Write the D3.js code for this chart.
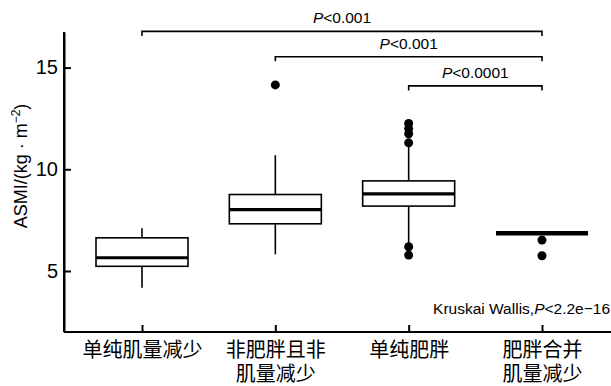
<!DOCTYPE html>
<html>
<head>
<meta charset="utf-8">
<script src="https://cdn.jsdelivr.net/npm/d3@7"></script>
<style>
  body { margin: 0; background: #fff; }
  text { font-family: "Liberation Sans", Arial, "Noto Sans CJK SC", sans-serif; fill: #000; }
  .cjk { font-family: "Noto Sans CJK SC", sans-serif; }
</style>
</head>
<body>
<div id="chart"></div>
<script>
const width = 611;
const height = 386;

// groups (x labels, split into lines)
const groups = ['g1', 'g2', 'g3', 'g4'];
const groupLabels = [['单纯肌量减少'], ['非肥胖且非', '肌量减少'], ['单纯肥胖'], ['肥胖合并', '肌量减少']];

// box stats
const whiskerLow  = [4.18, 5.82, 6.30, 6.85];
const q1          = [5.23, 7.32, 8.19, 6.85];
const medians     = [5.65, 8.02, 8.79, 6.85];
const q3          = [6.63, 8.76, 9.43, 6.85];
const whiskerHigh = [7.10, 10.69, 11.20, 6.85];
const outliers    = [[], [14.15], [12.25, 12.0, 11.75, 11.3, 6.19, 5.78], [6.52, 5.75]];

const yTicks = [5, 10, 15];

// pairwise comparisons
const bracketFrom  = ['g1', 'g2', 'g3'];
const bracketTo    = ['g4', 'g4', 'g4'];
const bracketLevel = [16.78, 15.53, 14.1];
const bracketLabel = ['<0.001', '<0.001', '<0.0001'];

const kruskalText = 'Kruskai Wallis,';
const kruskalP = '<2.2e\u221216';

const svg = d3.select('#chart')
  .append('svg')
  .attr('width', width)
  .attr('height', height);

const axisX = 64;
const axisY = 332;

const x = d3.scalePoint()
  .domain(groups)
  .range([142, 542]);

const y = d3.scaleLinear()
  .domain([2, 16.75])
  .range([axisY, 32]);

const boxW = 92;

// axes
const yAxis = svg.append('g')
  .attr('transform', 'translate(' + axisX + ',0)')
  .call(d3.axisLeft(y).tickValues(yTicks).tickSizeInner(-7).tickSizeOuter(0).tickPadding(6));
yAxis.select('.domain').attr('stroke-width', 2);
yAxis.selectAll('.tick line').attr('stroke-width', 2);
yAxis.selectAll('.tick text').style('font-size', '20px');

svg.append('line')
  .attr('x1', axisX).attr('x2', width)
  .attr('y1', axisY).attr('y2', axisY)
  .attr('stroke', '#000').attr('stroke-width', 2);
// extend y axis line down to x axis
svg.append('line')
  .attr('x1', axisX).attr('x2', axisX)
  .attr('y1', y(2)).attr('y2', y.range()[1])
  .attr('stroke', '#000').attr('stroke-width', 2);

const xAxis = svg.append('g')
  .attr('transform', 'translate(0,' + axisY + ')')
  .call(d3.axisBottom(x).tickSizeInner(-7).tickSizeOuter(0).tickFormat(''));
xAxis.select('.domain').remove();
xAxis.selectAll('.tick line').attr('stroke-width', 2);

xAxis.selectAll('.tick').each(function(d, i) {
  const tk = d3.select(this);
  groupLabels[i].forEach((line, j) => {
    tk.append('text')
      .attr('class', 'cjk')
      .attr('text-anchor', 'middle')
      .style('font-size', '20px')
      .attr('y', 25 + j * 24)
      .text(line);
  });
});

// y label
const yl = svg.append('text')
  .attr('transform', 'translate(27,166) rotate(-90)')
  .attr('text-anchor', 'middle')
  .style('font-size', '18px');
yl.append('tspan').text('ASMI/(kg \u00b7 m');
yl.append('tspan').attr('dy', -7).style('font-size', '12px').text('\u22122');
yl.append('tspan').attr('dy', 7).text(')');

// boxes
const box = svg.selectAll('.box')
  .data(groups)
  .enter()
  .append('g')
  .attr('class', 'box');

box.append('line')
  .attr('x1', d => x(d)).attr('x2', d => x(d))
  .attr('y1', (d, i) => y(whiskerLow[i])).attr('y2', (d, i) => y(q1[i]))
  .attr('stroke', '#000').attr('stroke-width', 1.6);

box.append('line')
  .attr('x1', d => x(d)).attr('x2', d => x(d))
  .attr('y1', (d, i) => y(q3[i])).attr('y2', (d, i) => y(whiskerHigh[i]))
  .attr('stroke', '#000').attr('stroke-width', 1.6);

box.append('rect')
  .attr('x', d => x(d) - boxW / 2)
  .attr('width', boxW)
  .attr('y', (d, i) => y(q3[i]))
  .attr('height', (d, i) => y(q1[i]) - y(q3[i]))
  .attr('fill', '#fff')
  .attr('stroke', '#000').attr('stroke-width', 1.6);

box.append('line')
  .attr('x1', d => x(d) - boxW / 2).attr('x2', d => x(d) + boxW / 2)
  .attr('y1', (d, i) => y(medians[i])).attr('y2', (d, i) => y(medians[i]))
  .attr('stroke', '#000').attr('stroke-width', (d, i) => q1[i] === q3[i] ? 4.5 : 3.2);

box.each(function(d, i) {
  d3.select(this).selectAll('circle')
    .data(outliers[i])
    .enter()
    .append('circle')
    .attr('cx', x(d))
    .attr('cy', v => y(v))
    .attr('r', 4.5)
    .attr('fill', '#000');
});

// brackets
const tick = 4.5;
bracketFrom.forEach((from, i) => {
  const x1 = x(from), x2 = x(bracketTo[i]), yy = y(bracketLevel[i]);
  svg.append('path')
    .attr('d', 'M' + x1 + ',' + (yy + tick) + 'V' + yy + 'H' + x2 + 'V' + (yy + tick))
    .attr('fill', 'none')
    .attr('stroke', '#000').attr('stroke-width', 1.6);
  const t = svg.append('text')
    .attr('x', (x1 + x2) / 2)
    .attr('y', yy - 8)
    .attr('text-anchor', 'middle')
    .style('font-size', '15.5px');
  t.append('tspan').style('font-style', 'italic').text('P');
  t.append('tspan').text(bracketLabel[i]);
});

// Kruskal-Wallis note
const kw = svg.append('text')
  .attr('x', width - 1)
  .attr('y', y(2.9))
  .attr('text-anchor', 'end')
  .style('font-size', '15.5px');
kw.append('tspan').text(kruskalText);
kw.append('tspan').style('font-style', 'italic').text('P');
kw.append('tspan').text(kruskalP);
</script>
</body>
</html>
